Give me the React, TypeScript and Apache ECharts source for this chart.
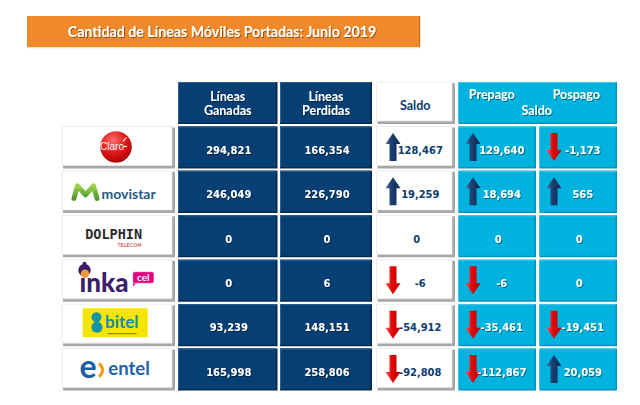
import React, { useEffect, useRef } from 'react';
import * as echarts from 'echarts';

// ---------------- data ----------------
const title = 'Cantidad de Líneas Móviles Portadas: Junio 2019';
const operators = ['Claro', 'movistar', 'DOLPHIN', 'inka cel', 'bitel', 'entel'];
const headerTitles = ['Líneas\nGanadas', 'Líneas\nPerdidas', 'Saldo'];
const splitTitles = ['Prepago', 'Pospago'];
const splitGroupTitle = 'Saldo';

const ganadas = [294821, 246049, 0, 0, 93239, 165998];
const perdidas = [166354, 226790, 0, 6, 148151, 258806];
const saldo = [128467, 19259, 0, -6, -54912, -92808];
const prepago = [129640, 18694, 0, -6, -35461, -112867];
const pospago = [-1173, 565, 0, 0, -19451, 20059];

// ---------------- layout ----------------
const COL_EDGES = [
  [62, 175],
  [178, 277.5],
  [280, 372],
  [376.5, 455],
  [458.5, 536],
  [539.5, 617],
];
const CELL_GAP = 2.4;
const ARROW_OFFSET = [0, 0, 0, 9, 7, 7];

const NUM_FONT = '"DejaVu Sans Condensed", "DejaVu Sans", sans-serif';
const HEAD_FONT = 'Lato, "Open Sans", sans-serif';
const NAVY_TEXT = '#0c3a6d';

function geom(api: any, c: number, r: number) {
  const e = COL_EDGES[c];
  const p0 = api.coord([e[0], r]);
  const p1 = api.coord([e[1], r]);
  const band = api.size([0, 1])[1];
  const top = p0[1] - band / 2;
  const h = band - CELL_GAP;
  return { x0: p0[0], x1: p1[0], w: p1[0] - p0[0], top, h, cx: (p0[0] + p1[0]) / 2, cy: top + h / 2 };
}

function rect(x: number, y: number, w: number, h: number, fill: any, extra: any = {}) {
  return { type: 'rect', shape: { x, y, width: w, height: h, ...(extra.shape || {}) }, style: { fill, ...(extra.style || {}) }, silent: true };
}

function txt(text: string, x: number, y: number, o: any) {
  const align = o.align || 'center';
  const style: any = {
    text,
    x,
    y,
    fill: o.fill || '#ffffff',
    fontSize: o.fontSize || 12,
    fontFamily: o.fontFamily || HEAD_FONT,
    fontWeight: o.fontWeight || 'bold',
    align,
    verticalAlign: 'middle',
    textAlign: align,
    textVerticalAlign: 'middle',
  };
  if (o.shadow) {
    style.textShadowColor = 'rgba(0,0,0,0.45)';
    style.textShadowBlur = 1;
    style.textShadowOffsetX = 1;
    style.textShadowOffsetY = 1;
  }
  return { type: 'text', style, silent: true };
}

function navyCell(x: number, y: number, w: number, h: number) {
  return [
    rect(x, y, w, h, '#022a4f'),
    rect(x, y, w - 1.5, h - 1.5, '#063f74'),
    rect(x, y, w - 1.5, 1, '#2f5f90'),
    rect(x, y, 1, h - 1.5, '#2f5f90'),
  ];
}
function whiteCell(x: number, y: number, w: number, h: number) {
  return [
    rect(x + 1, y + 1, w - 1, h - 1, '#a6a6a6'),
    rect(x, y, w - 3, h - 3, '#ffffff', { style: { stroke: '#e6e6e6', lineWidth: 0.8 } }),
  ];
}
function cyanCell(x: number, y: number, w: number, h: number) {
  return [
    rect(x, y, w, h, '#0790ba'),
    rect(x, y, w - 1.5, h - 1.5, '#00b3df'),
    rect(x, y, w - 1.5, 1, '#45c9ec'),
  ];
}

function arrow(ax: number, ay: number, up: boolean) {
  const w = 15;
  const h = 28;
  const head = 11;
  const s0 = 4;
  const s1 = 11;
  let pts: number[][];
  if (up) {
    pts = [[w / 2, 0], [w, head], [s1, head], [s1, h], [s0, h], [s0, head], [0, head]];
  } else {
    pts = [[s0, 0], [s1, 0], [s1, h - head], [w, h - head], [w / 2, h], [0, h - head], [s0, h - head]];
  }
  const fill = up
    ? new echarts.graphic.LinearGradient(0, 0, 1, 0, [
        { offset: 0, color: '#4f74a6' },
        { offset: 0.35, color: '#1e4275' },
        { offset: 1, color: '#0b2550' },
      ])
    : new echarts.graphic.LinearGradient(0, 0, 1, 0, [
        { offset: 0, color: '#ff5a5a' },
        { offset: 0.4, color: '#e80808' },
        { offset: 1, color: '#a80000' },
      ]);
  return {
    type: 'polygon',
    shape: { points: pts.map((p) => [ax + p[0], ay + p[1]]) },
    style: { fill },
    silent: true,
  };
}

function drawLogo(name: string, cx: number, cy: number): any[] {
  if (name === 'Claro') {
    return [
      {
        type: 'circle',
        shape: { cx: cx - 2.5, cy: cy - 0.5, r: 15.8 },
        style: {
          fill: new echarts.graphic.RadialGradient(0.4, 0.3, 0.8, [
            { offset: 0, color: '#ff7070' },
            { offset: 0.5, color: '#e01818' },
            { offset: 1, color: '#9a0000' },
          ]),
        },
        silent: true,
      },
      txt('Claro', cx - 6.5, cy - 1.2, { fontSize: 10, fontFamily: '"Liberation Sans", sans-serif', fontWeight: 'normal' }),
      { type: 'line', shape: { x1: cx + 5.5, y1: cy - 1, x2: cx + 8.5, y2: cy - 1 }, style: { stroke: '#ffffff', lineWidth: 1.2 }, silent: true },
      { type: 'line', shape: { x1: cx + 4.5, y1: cy - 6, x2: cx + 8, y2: cy - 10 }, style: { stroke: '#ffffff', lineWidth: 1.1 }, silent: true },
    ];
  }
  if (name === 'movistar') {
    return [
      {
        type: 'polyline',
        shape: {
          points: [
            [cx - 44.5, cy + 6.5],
            [cx - 41, cy - 6],
            [cx - 33, cy + 3],
            [cx - 25, cy - 6],
            [cx - 21.5, cy + 6.5],
          ],
        },
        style: {
          stroke: new echarts.graphic.LinearGradient(0, 0, 0, 1, [
            { offset: 0, color: '#9fd050' },
            { offset: 1, color: '#4e9a2a' },
          ]),
          lineWidth: 5,
          lineCap: 'round',
          lineJoin: 'round',
          fill: 'none',
        },
        silent: true,
      },
      txt('movistar', cx - 17, cy + 1.5, { fontSize: 14, fill: '#1f5a80', align: 'left' }),
    ];
  }
  if (name === 'DOLPHIN') {
    return [
      txt('DOLPHIN', cx - 4.8, cy - 2, { fontSize: 13.5, fontFamily: '"DejaVu Sans Mono", monospace', fill: '#2a2a2a' }),
      txt('TELECOM', cx + 11, cy + 8.6, { fontSize: 5, fontFamily: '"DejaVu Sans", sans-serif', fill: '#d02020', fontWeight: 'normal' }),
    ];
  }
  if (name === 'inka cel') {
    return [
      txt('inka', cx - 39, cy + 1, { fontSize: 26, fill: '#3b1f6b', align: 'left', fontWeight: 900 }),
      { type: 'circle', shape: { cx: cx - 34, cy: cy - 10.5, r: 6.2 }, style: { fill: '#3b1f6b' }, silent: true },
      { type: 'circle', shape: { cx: cx - 33.5, cy: cy - 7, r: 4.2 }, style: { fill: '#f29a3a' }, silent: true },
      { type: 'circle', shape: { cx: cx - 34, cy: cy - 17, r: 2 }, style: { fill: '#3b1f6b' }, silent: true },
      {
        type: 'polygon',
        shape: { points: [[cx + 14.5, cy + 1.5], [cx + 19, cy + 1.5], [cx + 14.5, cy + 5.5]] },
        style: { fill: '#e5007e' },
        silent: true,
      },
      rect(cx + 14.2, cy - 9, 21.3, 11.6, '#e5007e', { shape: { r: 2 }, style: { stroke: '#ffffff', lineWidth: 0.6 } }),
      txt('cel', cx + 24.8, cy - 3.3, { fontSize: 10, fill: '#ffffff' }),
    ];
  }
  if (name === 'bitel') {
    return [
      rect(cx - 35.8, cy - 17, 65, 29, '#f6e500'),
      { type: 'circle', shape: { cx: cx - 22, cy: cy - 7.8, r: 5 }, style: { fill: '#1594a8' }, silent: true },
      { type: 'circle', shape: { cx: cx - 21.5, cy: cy + 2.2, r: 5.5 }, style: { fill: '#1594a8' }, silent: true },
      txt('bitel', cx - 13.5, cy - 4, { fontSize: 17, fill: '#138ea3', align: 'left' }),
      rect(cx - 11, cy + 8, 29, 1, '#7a7640'),
    ];
  }
  // entel
  return [
    txt('e', cx - 30.5, cy - 4, { fontSize: 32, fill: '#1a5ea6' }),
    {
      type: 'arc',
      shape: { cx: cx - 23.5, cy: cy + 0.5, r: 7.5, startAngle: -Math.PI / 3, endAngle: Math.PI / 3 },
      style: { stroke: '#f39c12', lineWidth: 3, fill: 'none' },
      silent: true,
    },
    txt('entel', cx - 10.2, cy - 2, { fontSize: 18.5, fill: '#1e62aa', align: 'left' }),
  ];
}

function renderHeader(params: any, api: any) {
  const c = api.value(0);
  const g = geom(api, c, 0);
  let children: any[] = [];
  if (c === 1 || c === 2) {
    const lines = headerTitles[c - 1].split('\n');
    children = [
      ...navyCell(g.x0, g.top, g.w, g.h),
      txt(lines[0], g.cx, g.top + 14, { fontSize: 12.5, shadow: true }),
      txt(lines[1], g.cx, g.top + 28, { fontSize: 12.5, shadow: true }),
    ];
  } else if (c === 3) {
    children = [...whiteCell(g.x0, g.top, g.w, g.h), txt(headerTitles[2], g.cx - 0.5, g.cy + 2, { fontSize: 12.5, fill: NAVY_TEXT })];
  } else {
    const g5 = geom(api, 5, 0);
    const w = g5.x1 - g.x0;
    const mid = (g.x0 + g5.x1) / 2;
    children = [
      ...cyanCell(g.x0, g.top, w, g.h),
      txt(splitTitles[0], g.cx - 5.5, g.top + 12, { fontSize: 12.5, shadow: true }),
      txt(splitTitles[1], g5.cx - 2, g.top + 12, { fontSize: 12.5, shadow: true }),
      txt(splitGroupTitle, mid - 1, g.top + 28.5, { fontSize: 12.5, shadow: true }),
    ];
  }
  return { type: 'group', children };
}

function renderLogo(params: any, api: any) {
  const r = api.value(1);
  const g = geom(api, 0, r);
  return { type: 'group', children: [...whiteCell(g.x0, g.top, g.w, g.h), ...drawLogo(operators[r - 1], g.cx, g.cy)] };
}

function renderValue(params: any, api: any) {
  const c = api.value(0);
  const r = api.value(1);
  const v = api.value(2);
  const g = geom(api, c, r);
  const children: any[] = [];
  let fill = '#ffffff';
  let shadow = true;
  if (c === 1 || c === 2) children.push(...navyCell(g.x0, g.top, g.w, g.h));
  else if (c === 3) {
    children.push(...whiteCell(g.x0, g.top, g.w, g.h));
    fill = NAVY_TEXT;
    shadow = false;
  } else children.push(...cyanCell(g.x0, g.top, g.w, g.h));
  const hasArrow = c >= 3 && v !== 0;
  if (hasArrow) children.push(arrow(g.x0 + ARROW_OFFSET[c], g.cy - 14.5, v > 0));
  const label = Number(v).toLocaleString('en-US');
  children.push(txt(label, hasArrow ? g.cx + 4.5 : g.cx + 1, g.cy + 2.8, { fontSize: 11, fontFamily: NUM_FONT, fill, shadow }));
  return { type: 'group', children };
}

function valueSeries(name: string, col: number, arr: number[]) {
  return {
    type: 'custom',
    name,
    renderItem: renderValue,
    encode: { x: 0, y: 1 },
    data: arr.map((v, i) => [col, i + 1, v]),
    silent: true,
  };
}

export default function App() {
  const ref = useRef<HTMLDivElement>(null);
  useEffect(() => {
    if (!ref.current) return;
    const chart = echarts.init(ref.current, undefined, { renderer: 'svg' });
    const option: any = {
      animation: false,
      backgroundColor: '#ffffff',
      grid: { left: 0, right: 0, top: 82, height: 311 },
      xAxis: { type: 'value', min: 0, max: 640, show: false },
      yAxis: { type: 'category', data: ['header', ...operators], inverse: true, show: false },
      graphic: [
        { type: 'rect', shape: { x: 27, y: 16, width: 393, height: 31.3 }, style: { fill: '#f0892a' }, silent: true },
        { type: 'rect', shape: { x: 419, y: 16, width: 1.2, height: 31.3 }, style: { fill: '#c8701e' }, silent: true },
        { type: 'rect', shape: { x: 27, y: 47.3, width: 393, height: 1 }, style: { fill: '#dedede' }, silent: true },
        {
          type: 'text',
          x: 222,
          y: 31.3,
          style: {
            text: title,
            fill: '#ffffff',
            fontSize: 14.2,
            fontFamily: HEAD_FONT,
            fontWeight: 'bold',
            align: 'center',
            verticalAlign: 'middle',
            textAlign: 'center',
            textVerticalAlign: 'middle',
            textShadowColor: 'rgba(0,0,0,0.4)',
            textShadowBlur: 1,
            textShadowOffsetX: 1,
            textShadowOffsetY: 1,
          },
          silent: true,
        },
      ],
      series: [
        {
          type: 'custom',
          name: 'header',
          renderItem: renderHeader,
          encode: { x: 0, y: 1 },
          data: [[1, 0], [2, 0], [3, 0], [4, 0]],
          silent: true,
        },
        {
          type: 'custom',
          name: 'operador',
          renderItem: renderLogo,
          encode: { x: 0, y: 1 },
          data: operators.map((_, i) => [0, i + 1]),
          silent: true,
        },
        valueSeries('Líneas Ganadas', 1, ganadas),
        valueSeries('Líneas Perdidas', 2, perdidas),
        valueSeries('Saldo', 3, saldo),
        valueSeries('Prepago', 4, prepago),
        valueSeries('Pospago', 5, pospago),
      ],
    };
    chart.setOption(option);
    return () => chart.dispose();
  }, []);
  return <div ref={ref} style={{ position: 'fixed', left: 0, top: 0, width: 640, height: 405 }} />;
}
